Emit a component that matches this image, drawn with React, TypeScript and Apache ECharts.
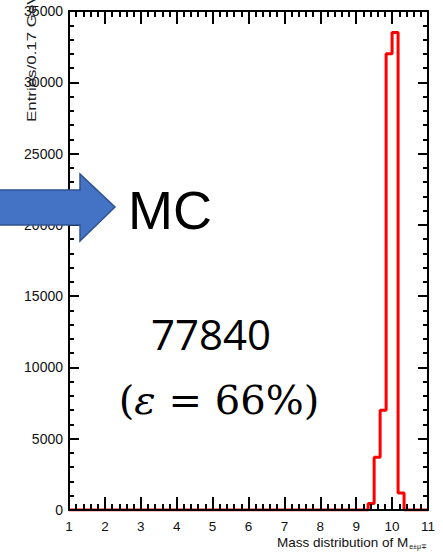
import React, { useEffect, useRef } from "react";
import * as echarts from "echarts";

// Histogram binning: 60 bins of 1/6 GeV spanning 1–11 GeV
const binStart = 1;
const binWidth = 1 / 6;
const entries = [
  0, 0, 0, 0, 0, 0, 0, 0, 0, 0,
  0, 0, 0, 0, 0, 0, 0, 0, 0, 0,
  0, 0, 0, 0, 0, 0, 0, 0, 0, 0,
  0, 0, 0, 0, 0, 0, 0, 0, 0, 0,
  0, 0, 0, 0, 0, 0, 0, 0, 0, 0,
  450, 3700, 7000, 32000, 33500, 1190, 0, 0, 0, 0,
];

const xTicks = [1, 11, 1];
const yTicks = [0, 35000, 5000];

const yTitle = "Entries/0.17 GeV";
const xTitle = "Mass distribution of M";
const xTitleSub = "e\u00B1\u03BC\u2213";
const sampleLabel = "MC";
const countLabel = "77840";
const effLabel = "66%";

const FONT = "'Liberation Sans', Arial, Helvetica, sans-serif";

// Outline points: one point at each bin's lower edge, plus the closing upper edge
function stepPoints(): number[][] {
  const pts: number[][] = entries.map((v, i) => [binStart + i * binWidth, v]);
  pts.push([binStart + entries.length * binWidth, entries[entries.length - 1]]);
  return pts;
}

export default function App() {
  const ref = useRef<HTMLDivElement>(null);

  useEffect(() => {
    if (!ref.current) return;
    const chart = echarts.init(ref.current, null, { renderer: "svg" });

    const tickCommon = {
      axisLine: { show: true, onZero: false, lineStyle: { color: "#000", width: 2 } },
      splitLine: { show: false },
      z: 5,
    };

    const xAxisBase = (pos: "bottom" | "top", labels: boolean) => ({
      type: "value",
      position: pos,
      min: xTicks[0],
      max: xTicks[1],
      interval: xTicks[2],
      ...tickCommon,
      axisTick: { show: true, inside: true, length: 13, lineStyle: { color: "#000", width: 2 } },
      minorTick: { show: true, splitNumber: 5, length: 6, lineStyle: { color: "#000", width: 2 } },
      axisLabel: {
        show: labels,
        color: "#111",
        fontFamily: FONT,
        fontSize: 13.5,
        lineHeight: 13,
        margin: 10,
      },
    });

    const yAxisBase = (pos: "left" | "right", labels: boolean) => ({
      type: "value",
      position: pos,
      min: yTicks[0],
      max: yTicks[1],
      interval: yTicks[2],
      ...tickCommon,
      axisTick: { show: true, inside: true, length: 10, lineStyle: { color: "#000", width: 2 } },
      minorTick: { show: true, splitNumber: 5, length: 5, lineStyle: { color: "#000", width: 2 } },
      axisLabel: {
        show: labels,
        color: "#111",
        fontFamily: FONT,
        fontSize: 14,
        margin: 6,
        formatter: (v: number) => String(v),
      },
    });

    chart.setOption({
      animation: false,
      backgroundColor: "#fff",
      grid: { left: 69, right: 15, top: 11, bottom: 42 },
      xAxis: [xAxisBase("bottom", true), xAxisBase("top", false)],
      yAxis: [yAxisBase("left", true), yAxisBase("right", false)],
      series: [
        {
          type: "line",
          xAxisIndex: 0,
          yAxisIndex: 0,
          step: "end",
          showSymbol: false,
          symbol: "none",
          lineStyle: { color: "#ff0000", width: 3 },
          data: stepPoints(),
          z: 2,
        },
      ],
      graphic: [
        {
          type: "text",
          x: 31,
          y: 122,
          rotation: Math.PI / 2,
          scaleX: 1.3,
          z: 10,
          style: {
            text: yTitle,
            fill: "#222",
            font: `13px ${FONT}`,
            align: "left",
            verticalAlign: "middle",
          },
        },
        {
          type: "text",
          right: 16,
          top: 534,
          z: 10,
          style: {
            rich: {
              m: { fontFamily: FONT, fontSize: 13.5, lineHeight: 14, fill: "#111" },
              s: { fontFamily: FONT, fontSize: 7, lineHeight: 14, fill: "#111", padding: [9, 0, 0, 1] },
            },
            text: `{m|${xTitle}}{s|${xTitleSub}}`,
          } as any,
        },
        {
          type: "polygon",
          z: 20,
          shape: {
            points: [
              [-5, 190],
              [80, 190],
              [80, 174],
              [115, 207],
              [80, 241],
              [80, 225],
              [-5, 225],
            ],
          },
          style: { fill: "#4472C4", stroke: "#2F528F", lineWidth: 1.5 },
        },
        {
          type: "text",
          x: 128,
          y: 210,
          z: 20,
          style: {
            text: sampleLabel,
            fill: "#000",
            font: `54px ${FONT}`,
            align: "left",
            verticalAlign: "middle",
          },
        },
        {
          type: "text",
          x: 211,
          y: 333,
          z: 20,
          style: {
            text: countLabel,
            fill: "#000",
            font: "42px 'Open Sans', sans-serif",
            align: "center",
            verticalAlign: "middle",
          },
        },
        {
          type: "text",
          x: 219,
          y: 400,
          z: 20,
          style: {
            align: "center",
            verticalAlign: "middle",
            rich: {
              p: { fontFamily: "'DejaVu Serif', serif", fontSize: 40, fill: "#000" },
              e: { fontFamily: "'DejaVu Serif', serif", fontSize: 40, fontStyle: "italic", fill: "#000" },
            },
            text: `{p|(}{e|\u03B5}{p| = ${effLabel})}`,
          } as any,
        },
      ],
    });

    return () => chart.dispose();
  }, []);

  return (
    <div
      ref={ref}
      style={{ position: "absolute", left: 0, top: 0, width: 443, height: 552 }}
    />
  );
}
